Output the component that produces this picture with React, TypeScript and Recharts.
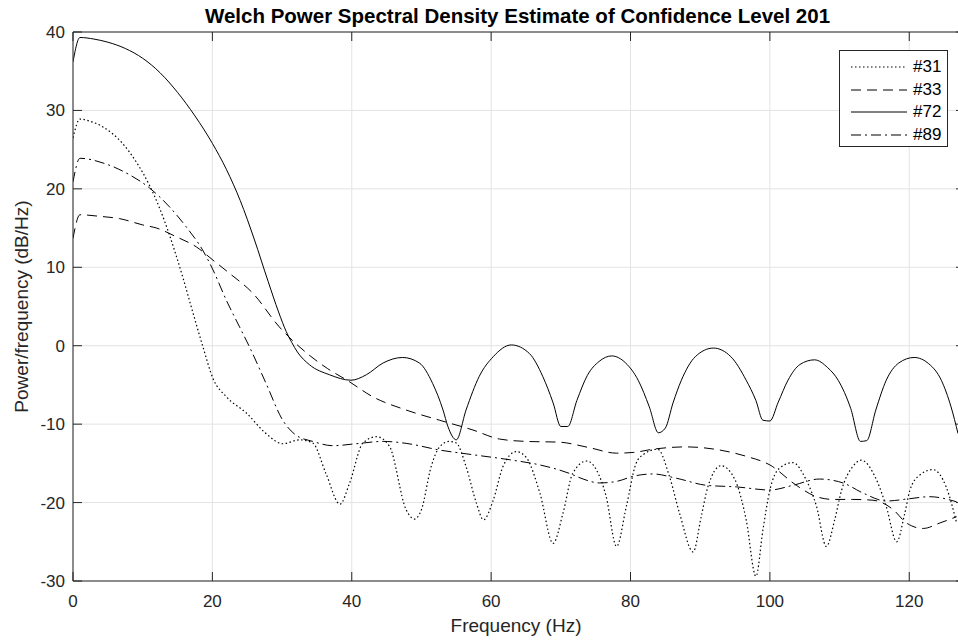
import React from "react";
import { LineChart, Line, XAxis, YAxis, CartesianGrid, ReferenceLine } from "recharts";

// frequency (Hz) / power (dB/Hz)
const f31 = [0, 1, 2.5, 4.3, 7.1, 9.1, 11, 12.4, 13.85, 14.8, 15.8, 16.7, 17.7, 18.6, 20.1, 22, 24.9, 27.7, 30.1, 32.5, 34.4, 36.3, 38.3, 39.7, 41.6, 43.6, 45.4, 47.8, 49, 50, 51.4, 52.6, 54, 55, 56.4, 57.9, 58.9, 60.3, 61.7, 63.6, 65, 67, 68.9, 70.3, 71.7, 73.7, 75.1, 76.5, 78, 79.4, 80.8, 81.8, 83.9, 85.6, 87.05, 89, 90.1, 91.1, 93, 95, 96.6, 98, 99, 100, 101.4, 103.3, 105.2, 106.7, 108.1, 109.3, 110.3, 111.9, 113.1, 115.3, 116.7, 118.2, 119.35, 120.1, 121.5, 123.4, 125.3, 126.8];
const p31 = [26.5, 28.9, 28.6, 27.9, 25.8, 23.4, 20.4, 17.6, 14.1, 11.5, 8.6, 5.8, 2.7, 0.0, -4.2, -6.5, -8.6, -11.2, -12.5, -12.0, -12.4, -16.3, -20.2, -17.5, -12.4, -11.6, -12.8, -20.9, -22.1, -20.9, -15.4, -12.9, -12.2, -12.4, -15.4, -20.1, -22.2, -19.7, -15.4, -13.5, -14.2, -18.8, -25.2, -21.4, -16.3, -14.7, -15.8, -19.2, -25.6, -20.5, -15.0, -13.9, -13.2, -16.7, -21.4, -26.3, -22.0, -18.0, -15.3, -17.1, -22.2, -29.4, -23.5, -18.4, -15.6, -14.9, -17.1, -20.5, -25.6, -22.2, -18.4, -15.4, -14.6, -17.1, -20.5, -25.0, -21.4, -18.4, -16.5, -15.8, -18.0, -22.6];

const f33 = [0, 1, 3.8, 6.7, 10, 12, 14.8, 17.7, 20.1, 22.5, 25.8, 29.6, 33.9, 36.5, 39.5, 43, 47.8, 52.6, 57.4, 61.2, 65, 69.8, 74.1, 78, 80.5, 83.2, 88, 92.8, 96.6, 100, 103.8, 106.7, 109.1, 111.9, 114.8, 117.7, 119.6, 122, 124.4, 126.8];
const p33 = [13.7, 16.7, 16.5, 16.2, 15.4, 15.0, 13.9, 12.6, 10.9, 9.2, 6.7, 2.4, -1.2, -2.9, -4.5, -6.5, -8.2, -9.5, -10.75, -11.9, -12.2, -12.3, -13.0, -13.7, -13.6, -13.2, -12.9, -13.3, -14.1, -15.2, -17.8, -19.25, -19.6, -19.6, -19.7, -20.9, -22.6, -23.3, -22.6, -21.8];

const f72 = [0, 1, 3, 5, 7.5, 10, 12.5, 15, 17.5, 20, 22, 24, 26, 28, 29.5, 30.6, 31.4, 32.2, 33.9, 36.8, 39.9, 42.1, 44.5, 47.3, 49.7, 51.6, 53.1, 53.8, 55, 56.4, 58.3, 60.3, 62.9, 65.5, 67.4, 68.9, 70, 71, 72.3, 73.8, 75.5, 77.3, 79.3, 81.1, 82.7, 84, 85, 86.1, 87.3, 89.3, 91.9, 94.4, 96.6, 98, 99, 100, 101.2, 102.6, 104.3, 106.4, 108.3, 109.8, 111.6, 113, 113.9, 115.2, 116.7, 118.5, 120.7, 122.8, 124.6, 126, 127];
const p72 = [36.2, 39.3, 39.1, 38.7, 37.9, 36.65, 34.8, 32.3, 29.3, 25.8, 22.5, 18.5, 13.6, 8.2, 4.3, 1.8, 0.4, -0.8, -2.4, -3.7, -4.4, -3.7, -2.2, -1.5, -2.2, -4.8, -8.2, -10.3, -12.0, -8.2, -3.9, -1.4, 0.1, -1.0, -3.9, -7.3, -10.3, -10.3, -7.0, -3.8, -2.0, -1.3, -2.2, -4.4, -7.8, -11.1, -10.5, -7.3, -4.4, -1.4, -0.3, -1.4, -4.4, -7.0, -9.5, -9.6, -7.2, -4.4, -2.4, -1.8, -2.8, -4.4, -8.0, -12.2, -12.1, -8.2, -4.4, -2.2, -1.5, -2.3, -4.4, -7.8, -11.2];

const f89 = [0, 1, 4.3, 8.1, 11, 13.85, 16.2, 18.6, 20.1, 22, 23.9, 25.3, 27.7, 30.1, 32, 34.4, 37.3, 40.6, 44.5, 47.8, 52.6, 57.4, 63.1, 67, 71.3, 73.2, 75.6, 78, 80.6, 83.2, 86.6, 90.9, 95.2, 100, 103.3, 107.1, 110.5, 113.4, 116.7, 120.1, 122.9, 126.8];
const p89 = [20.9, 23.9, 23.3, 21.8, 20.1, 17.7, 15.2, 12.2, 9.65, 5.8, 2.4, -0.1, -4.8, -9.5, -11.4, -12.2, -12.75, -12.5, -12.2, -12.45, -13.3, -13.9, -14.6, -15.2, -16.3, -17.0, -17.5, -17.3, -16.6, -16.35, -16.9, -17.8, -18.0, -18.4, -17.8, -17.0, -17.5, -18.8, -19.8, -19.5, -19.25, -19.9];

const X_TICKS = [0, 20, 40, 60, 80, 100, 120];
const Y_TICKS = [-30, -20, -10, 0, 10, 20, 30, 40];

const zip = (f: number[], p: number[]) => f.map((x, i) => ({ f: x, p: p[i] }));

const SERIES = [
  { name: "#31", data: zip(f31, p31), dash: "1.5 2.5", width: 1.2 },
  { name: "#33", data: zip(f33, p33), dash: "10 6", width: 1 },
  { name: "#72", data: zip(f72, p72), dash: undefined, width: 1 },
  { name: "#89", data: zip(f89, p89), dash: "10 4 2 4", width: 1 },
];

const FONT = '"Liberation Sans", Arial, Helvetica, sans-serif';
const AXIS = "#262626";
const W = 965;
const H = 643;
const LEFT = 73;
const TOP = 32;
const BOTTOM = 581;
const RIGHT = W;

const XTick = (props: any) => {
  const { x, payload } = props;
  return (
    <g>
      <line x1={x} y1={BOTTOM} x2={x} y2={BOTTOM - 9} stroke={AXIS} />
      <line x1={x} y1={TOP} x2={x} y2={TOP + 9} stroke={AXIS} />
      <text x={x} y={BOTTOM + 26} textAnchor="middle" fill={AXIS} fontSize={17} fontFamily={FONT}>
        {payload.value}
      </text>
    </g>
  );
};

const YTick = (props: any) => {
  const { y, payload } = props;
  return (
    <g>
      <line x1={LEFT} y1={y} x2={LEFT + 9} y2={y} stroke={AXIS} />
      <line x1={RIGHT - 9} y1={y} x2={RIGHT} y2={y} stroke={AXIS} />
      <text x={LEFT - 8} y={y + 6} textAnchor="end" fill={AXIS} fontSize={17} fontFamily={FONT}>
        {payload.value}
      </text>
    </g>
  );
};

export default function App() {
  return (
    <div style={{ position: "absolute", left: 0, top: 0, width: 958, height: 643, overflow: "hidden", background: "#fff", fontFamily: FONT }}>
      <div style={{ position: "absolute", left: 0, top: 5.5, width: 1035, textAlign: "center", fontSize: 20.5, fontWeight: "bold", lineHeight: "20.5px", color: "#000", whiteSpace: "nowrap" }}>
        Welch Power Spectral Density Estimate of Confidence Level 201
      </div>
      <div style={{ position: "absolute", left: 0, top: 615.5, width: 1032, textAlign: "center", fontSize: 19, lineHeight: "19px", color: AXIS, whiteSpace: "nowrap" }}>
        Frequency (Hz)
      </div>
      <div style={{ position: "absolute", left: 21 - 200, top: 306.5 - 9.5, width: 400, height: 19, textAlign: "center", fontSize: 19, lineHeight: "19px", color: AXIS, whiteSpace: "nowrap", transform: "rotate(-90deg)" }}>
        Power/frequency (dB/Hz)
      </div>

      <LineChart width={W} height={H} margin={{ top: TOP, right: 0, bottom: 0, left: 0 }}>
        <CartesianGrid stroke="#e3e3e3" strokeWidth={1} />
        <XAxis
          type="number"
          dataKey="f"
          domain={[0, 128]}
          ticks={X_TICKS}
          height={H - BOTTOM}
          tickLine={false}
          tickSize={0}
          tickMargin={0}
          tick={<XTick />}
          axisLine={{ stroke: AXIS }}
          allowDataOverflow
        />
        <YAxis
          type="number"
          domain={[-30, 40]}
          ticks={Y_TICKS}
          width={LEFT}
          tickLine={false}
          tickSize={0}
          tickMargin={0}
          tick={<YTick />}
          axisLine={{ stroke: AXIS }}
          allowDataOverflow
        />
        <ReferenceLine y={40} stroke={AXIS} />
        <ReferenceLine x={128} stroke={AXIS} />
        {SERIES.map((s) => (
          <Line
            key={s.name}
            data={s.data}
            dataKey="p"
            type="monotone"
            stroke="#000"
            strokeWidth={s.width}
            strokeDasharray={s.dash}
            dot={false}
            activeDot={false}
            isAnimationActive={false}
          />
        ))}
      </LineChart>

      <div style={{ position: "absolute", left: 839, top: 50, width: 107, height: 95, border: `1px solid ${AXIS}`, background: "#fff" }}>
        {SERIES.map((s, i) => (
          <div key={s.name} style={{ position: "absolute", left: 0, top: 16 + i * 22.6 - 10, height: 20, width: 107 }}>
            <svg width={60} height={20} style={{ position: "absolute", left: 11, top: 0 }}>
              <line x1={0} y1={10} x2={56} y2={10} stroke="#000" strokeWidth={s.width} strokeDasharray={s.dash} />
            </svg>
            <span style={{ position: "absolute", left: 73, top: 1, fontSize: 17, lineHeight: "18px", color: "#000" }}>{s.name}</span>
          </div>
        ))}
      </div>
    </div>
  );
}
